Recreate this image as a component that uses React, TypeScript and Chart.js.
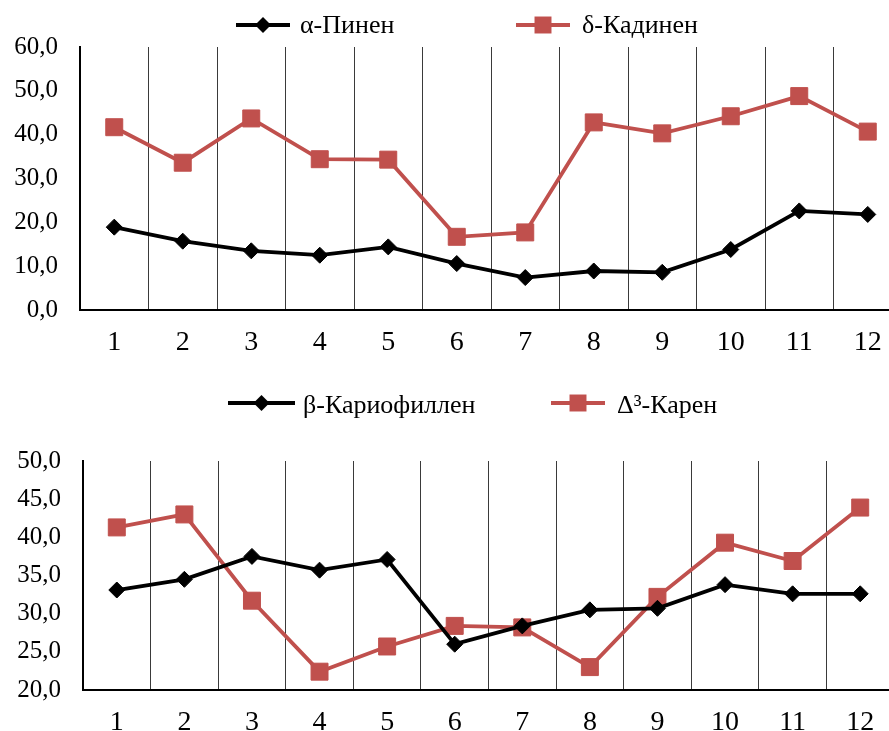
import React, { useEffect, useRef } from 'react';
import { Chart, registerables } from 'chart.js';

Chart.register(...registerables);

const categories = ['1', '2', '3', '4', '5', '6', '7', '8', '9', '10', '11', '12'];

const alphaPinene = [18.9, 15.7, 13.5, 12.5, 14.4, 10.6, 7.4, 8.9, 8.6, 13.8, 22.6, 21.8];
const deltaCadinene = [41.7, 33.6, 43.7, 34.4, 34.3, 16.7, 17.7, 42.8, 40.3, 44.2, 48.8, 40.7];

const betaCaryophyllene = [33.1, 34.5, 37.5, 35.7, 37.1, 26.0, 28.4, 30.5, 30.7, 33.8, 32.6, 32.6];
const delta3Carene = [41.3, 43.0, 31.7, 22.4, 25.7, 28.4, 28.2, 23.0, 32.2, 39.3, 36.9, 43.9];

const topLabels = ['α-Пинен', 'δ-Кадинен'];
const bottomLabels = ['β-Кариофиллен', 'Δ³-Карен'];

const RED = '#C0504D';
const BLACK = '#000000';
const FONT = '"Liberation Serif", "Times New Roman", serif';
const Y_FONT_SIZE = 25;
const X_FONT_SIZE = 28;
const LEGEND_FONT_SIZE = 26;

const fmt = (v: number | string) => Number(v).toFixed(1).replace('.', ',');

const lineLegend = {
  id: 'lineLegend',
  afterDraw(chart: any, _args: any, opts: any) {
    const ctx = chart.ctx as CanvasRenderingContext2D;
    ctx.save();
    (opts.items || []).forEach((it: any, i: number) => {
      const ds = chart.data.datasets[i];
      ctx.strokeStyle = ds.borderColor;
      ctx.lineWidth = ds.borderWidth;
      ctx.beginPath();
      ctx.moveTo(it.x0, opts.y);
      ctx.lineTo(it.x1, opts.y);
      ctx.stroke();
      const cx = (it.x0 + it.x1) / 2;
      const cy = opts.y;
      ctx.fillStyle = ds.backgroundColor;
      ctx.beginPath();
      if (ds.pointStyle === 'rectRot') {
        const r = ds.pointRadius;
        ctx.moveTo(cx, cy - r);
        ctx.lineTo(cx + r, cy);
        ctx.lineTo(cx, cy + r);
        ctx.lineTo(cx - r, cy);
        ctx.closePath();
      } else {
        const s = ds.pointRadius * Math.SQRT1_2;
        ctx.rect(cx - s, cy - s, 2 * s, 2 * s);
      }
      ctx.fill();
      ctx.fillStyle = '#000';
      ctx.font = `${LEGEND_FONT_SIZE}px ${FONT}`;
      ctx.textBaseline = 'alphabetic';
      ctx.textAlign = 'left';
      ctx.fillText(ds.label, it.tx, opts.baseline);
    });
    ctx.restore();
  },
};

function makeConfig(
  labels: string[],
  blackData: number[],
  redData: number[],
  yMin: number,
  yMax: number,
  step: number,
  axisLeft: number,
  legend: any
): any {
  return {
    type: 'line',
    data: {
      labels: categories,
      datasets: [
        {
          label: labels[0],
          data: blackData,
          borderColor: BLACK,
          backgroundColor: BLACK,
          borderWidth: 3.8,
          pointStyle: 'rectRot',
          pointRadius: 8,
          pointBorderWidth: 1,
          tension: 0,
        },
        {
          label: labels[1],
          data: redData,
          borderColor: RED,
          backgroundColor: RED,
          borderWidth: 3.8,
          pointStyle: 'rect',
          pointRadius: 12,
          pointBorderWidth: 1,
          tension: 0,
        },
      ],
    },
    options: {
      responsive: false,
      maintainAspectRatio: false,
      animation: false,
      devicePixelRatio: 1,
      layout: { padding: { top: legend.top, left: 0, right: 0, bottom: 0 } },
      plugins: {
        legend: { display: false },
        tooltip: { enabled: false },
        lineLegend: legend,
      },
      scales: {
        x: {
          offset: true,
          grid: { offset: true, color: '#3a3a3a', lineWidth: 1, drawTicks: false },
          border: { color: '#000', width: 2 },
          ticks: {
            color: '#000',
            font: { family: FONT, size: X_FONT_SIZE },
            padding: 16,
            maxRotation: 0,
            autoSkip: false,
          },
          afterFit: (scale: any) => {
            scale.height = 52;
          },
        },
        y: {
          min: yMin,
          max: yMax,
          grid: { display: false, drawTicks: false },
          border: { color: '#000', width: 2 },
          ticks: {
            stepSize: step,
            color: '#000',
            font: { family: FONT, size: Y_FONT_SIZE },
            padding: 22,
            callback: (v: any) => fmt(v),
          },
          afterFit: (scale: any) => {
            scale.width = axisLeft;
          },
        },
      },
    },
    plugins: [lineLegend],
  };
}

function ChartCanvas(props: { config: any; width: number; height: number; top: number }) {
  const ref = useRef<HTMLCanvasElement | null>(null);
  useEffect(() => {
    if (!ref.current) return;
    const chart = new Chart(ref.current, props.config);
    return () => chart.destroy();
  }, []);
  return (
    <canvas
      ref={ref}
      width={props.width}
      height={props.height}
      style={{ position: 'absolute', left: 0, top: props.top, width: props.width, height: props.height }}
    />
  );
}

export default function App() {
  const topConfig = makeConfig(topLabels, alphaPinene, deltaCadinene, 0, 60, 10, 80, {
    top: 47,
    y: 25,
    baseline: 33,
    items: [
      { x0: 236, x1: 290, tx: 300 },
      { x0: 516, x1: 570, tx: 582 },
    ],
  });
  const bottomConfig = makeConfig(bottomLabels, betaCaryophyllene, delta3Carene, 20, 50, 5, 83, {
    top: 99,
    y: 41,
    baseline: 51,
    items: [
      { x0: 228, x1: 295, tx: 303 },
      { x0: 551, x1: 605, tx: 617 },
    ],
  });
  return (
    <div
      style={{
        position: 'fixed',
        left: 0,
        top: 0,
        width: 889,
        height: 731,
        overflow: 'hidden',
        background: '#fff',
      }}
    >
      <ChartCanvas config={topConfig} width={915} height={362} top={0} />
      <ChartCanvas config={bottomConfig} width={907} height={380} top={362} />
    </div>
  );
}
